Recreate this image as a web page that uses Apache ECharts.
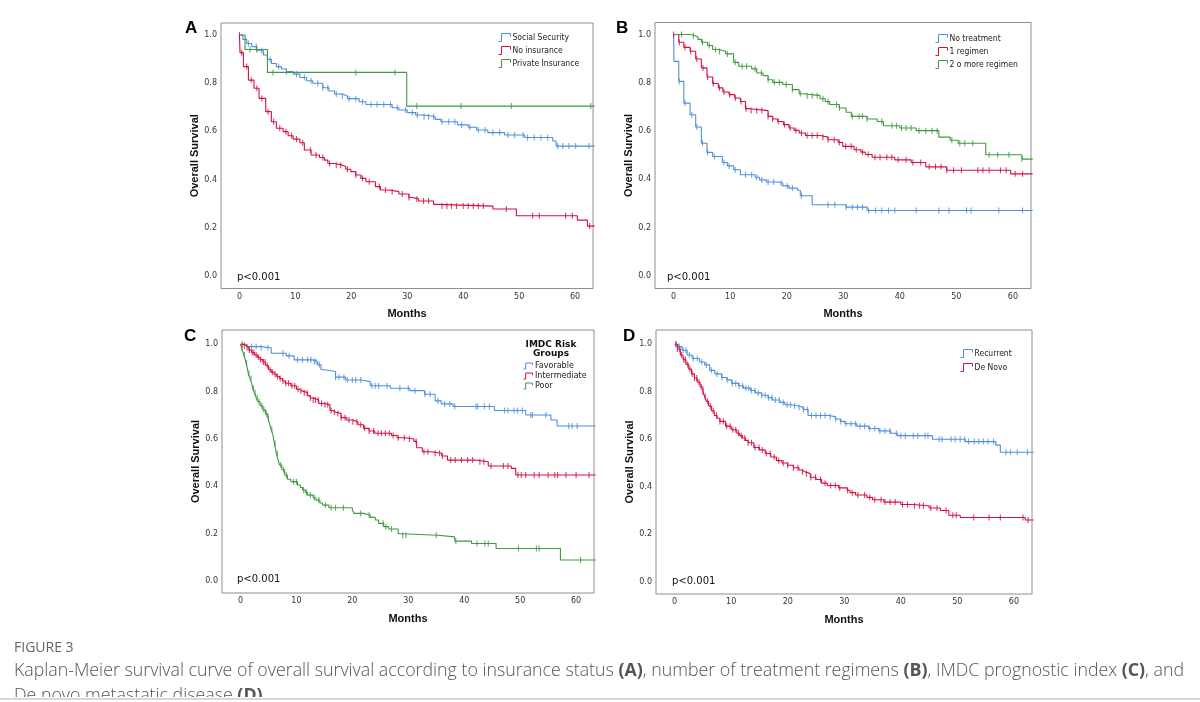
<!DOCTYPE html>
<html>
<head>
<meta charset="utf-8">
<script src="https://cdn.jsdelivr.net/npm/echarts@6/dist/echarts.min.js"></script>
<style>
html,body{margin:0;padding:0;background:#fff;}
#chart{width:1200px;height:702px;}
</style>
</head>
<body>
<div id="chart"></div>
<script>
// ---------- tick labels ----------
const monthTicks = [0, 10, 20, 30, 40, 50, 60];
const survTicks = [0, 0.2, 0.4, 0.6, 0.8, 1.0];

// ---------- Panel A: insurance status ----------
const aNames = ['Social Security', 'No insurance', 'Private Insurance'];
const aSocialT = [0,0.6,1.3,2.2,3.1,4.3,5.0,5.7,6.6,7.5,8.4,9.6,10.8,12.0,13.1,14.9,16.0,17.0,18.4,19.3,21.4,22.6,27.3,28.5,30.0,31.5,33.0,35.0,36.0,39.0,40.9,42.4,44.4,47.4,51.0,56.0,56.6,63.5];
const aSocialS = [1,0.982,0.965,0.952,0.935,0.917,0.899,0.882,0.869,0.859,0.848,0.838,0.824,0.81,0.80,0.781,0.768,0.755,0.747,0.736,0.723,0.712,0.698,0.689,0.678,0.668,0.661,0.65,0.64,0.627,0.617,0.606,0.595,0.585,0.575,0.56,0.539,0.539];
const aSocialC = [1.6,3.0,4.0,5.5,7.0,8.4,10.2,11.6,12.8,14.0,14.9,15.8,17.3,18.4,19.6,20.8,22.0,23.5,24.6,25.8,27.0,28.2,29.7,30.9,31.8,33.0,33.8,34.7,36.2,37.4,38.5,39.7,41.2,42.7,43.9,45.3,46.5,48.0,49.2,50.7,51.5,52.7,53.9,55.1,56.9,57.8,58.9,60.1,62.5];
const aNoneT = [0,0.1,0.7,1.6,2.6,3.5,4.7,5.7,6.6,7.8,8.7,9.6,10.8,11.6,12.8,14.3,15.2,15.8,17.0,18.4,19.0,19.9,20.8,21.7,22.6,24.3,25.2,26.7,28.5,30.3,30.9,32.0,34.7,35.3,45.3,49.5,60.4,62.2,63.5];
const aNoneS = [1,0.927,0.869,0.813,0.779,0.737,0.682,0.64,0.613,0.599,0.582,0.568,0.553,0.523,0.502,0.492,0.481,0.467,0.46,0.454,0.443,0.433,0.419,0.405,0.391,0.371,0.357,0.35,0.34,0.326,0.32,0.311,0.297,0.29,0.278,0.25,0.232,0.207,0.207];
const aNoneC = [0,0.4,1.3,2.1,3.1,4.0,5.1,6.1,7.2,8.3,9.3,10.2,11.3,12.7,13.7,14.9,16.1,17.3,18.1,19.3,20.8,22.0,23.2,25.0,26.1,27.3,29.1,30.3,31.7,32.9,33.8,36.2,37.1,37.9,38.8,40.0,40.9,41.8,42.7,43.6,47.7,52.4,53.6,58.3,59.5,62.6];
const aPrivT = [0,1.0,5.0,29.9,63.5];
const aPrivS = [1,0.94,0.845,0.705,0.705];
const aPrivC = [1.9,3.1,6.0,20.8,27.8,31.7,39.6,48.6,62.8];

// ---------- Panel B: treatment regimens ----------
const bNames = ['No treatment', '1 regimen', '2 o more regimen'];
const bNoT = [0,0.05,0.9,1.8,2.9,3.9,4.9,5.9,6.9,8.6,9.5,10.6,11.8,14.4,15.2,16.4,18.4,19.3,20.4,21.9,22.4,24.5,30.5,34.2,63.5];
const bNoS = [1,0.889,0.806,0.716,0.668,0.617,0.55,0.512,0.495,0.47,0.456,0.44,0.419,0.409,0.398,0.389,0.385,0.373,0.364,0.355,0.332,0.295,0.285,0.271,0.271];
const bNoC = [1.0,2.0,3.2,4.1,5.1,6.0,7.2,8.9,9.8,10.9,12.7,13.8,14.7,15.6,16.7,17.7,19.0,20.1,21.0,22.6,27.3,28.5,30.5,31.6,32.5,33.4,34.5,35.7,36.8,38.0,39.1,42.9,46.9,48.7,51.8,52.6,57.5,61.7];
const bOneT = [0,0.9,1.8,2.9,3.9,4.9,5.9,6.9,7.9,8.7,9.8,10.8,11.8,12.7,13.5,16.7,17.5,18.4,19.4,20.4,21.3,22.2,23.3,25.9,27.3,29.1,29.9,31.9,33.1,33.9,35.1,39.1,42.0,44.6,48.3,59.6,63.5];
const bOneS = [1,0.968,0.947,0.931,0.899,0.862,0.824,0.797,0.779,0.762,0.751,0.737,0.723,0.693,0.685,0.661,0.65,0.64,0.627,0.613,0.603,0.592,0.582,0.575,0.564,0.553,0.537,0.523,0.513,0.503,0.492,0.481,0.47,0.452,0.438,0.423,0.423];
const bOneC = [0,1.0,2.0,3.0,4.1,5.2,6.0,7.0,8.1,8.9,9.9,10.9,11.9,12.8,13.7,14.7,15.6,16.7,17.5,18.5,19.6,20.6,21.6,22.6,23.6,24.5,25.4,26.4,27.3,28.4,29.3,30.4,31.4,32.3,33.4,34.4,35.6,36.5,37.7,38.6,39.7,41.1,42.3,43.7,45.2,46.3,47.3,48.3,49.5,50.9,53.8,54.7,55.8,57.8,58.8,60.4,61.7];
const bTwoT = [0,2.9,3.8,4.3,4.9,6.0,6.9,8.1,9.2,10.6,11.5,13.8,14.7,15.8,16.7,17.5,19.3,21.0,22.2,23.0,25.9,26.8,27.6,29.3,30.5,31.4,34.2,36.0,37.1,40.0,42.9,46.9,48.9,50.3,55.2,61.6,63.5];
const bTwoS = [1,0.995,0.99,0.98,0.968,0.955,0.938,0.93,0.92,0.885,0.869,0.858,0.841,0.83,0.813,0.802,0.793,0.772,0.755,0.747,0.734,0.723,0.71,0.696,0.678,0.661,0.65,0.64,0.622,0.613,0.602,0.575,0.562,0.55,0.502,0.484,0.484];
const bTwoC = [1.4,3.5,5.1,6.3,7.4,8.1,9.5,10.9,12.1,12.9,14.4,15.5,16.7,17.8,18.7,19.9,21.0,22.4,23.6,24.5,25.4,26.4,27.3,28.8,29.3,31.6,32.8,33.4,34.2,36.8,38.6,39.4,40.3,41.1,42.0,43.4,44.6,45.7,46.6,49.2,50.6,51.5,52.9,55.8,57.3,59.3,61.6];

// ---------- Panel C: IMDC risk groups ----------
const cNames = ['Favorable', 'Intermediate', 'Poor'];
const cFavT = [0,1.1,3.5,5.5,8.2,9.6,12.9,13.8,14.4,15.0,17.0,18.8,21.7,23.2,26.8,30.3,32.9,34.8,35.9,38.0,45.4,51.0,55.5,56.6,63.5];
const cFavS = [1,0.99,0.985,0.962,0.951,0.934,0.927,0.913,0.892,0.885,0.861,0.849,0.842,0.825,0.814,0.804,0.789,0.761,0.748,0.737,0.72,0.701,0.68,0.655,0.655];
const cFavC = [2.0,2.8,3.7,4.9,7.6,8.7,10.2,11.1,12.0,12.6,13.2,13.5,14.1,17.0,17.6,18.5,19.1,20.0,20.6,21.5,23.5,24.1,24.7,26.2,28.5,30.0,31.2,33.0,33.9,35.3,36.5,37.4,38.3,42.1,42.4,43.6,44.5,47.2,47.8,48.9,49.5,50.4,51.9,52.2,54.6,58.7,59.3,60.2];
const cIntT = [0,0.5,1,1.5,2,2.5,3,3.5,4,4.5,5,5.5,6,6.5,7,7.5,8,9,10,10.5,11,12,12.5,13,14,15,16,16.5,17,18,19,20,21,22,23,24,27,28,29.5,31,31.5,32.5,34,36,37,42,44.3,48.4,49.2,63.5];
const cIntS = [1,0.993,0.986,0.975,0.965,0.955,0.945,0.935,0.925,0.91,0.892,0.882,0.873,0.864,0.855,0.845,0.835,0.825,0.81,0.803,0.795,0.782,0.773,0.765,0.75,0.744,0.72,0.713,0.708,0.69,0.68,0.673,0.66,0.645,0.634,0.624,0.615,0.605,0.6,0.59,0.563,0.546,0.54,0.528,0.511,0.504,0.486,0.476,0.448,0.448];
const cIntC = [0.3,0.7,1.2,1.6,2.1,2.4,2.8,3.2,3.6,4.1,4.4,4.8,5.3,5.7,6.2,6.6,7.1,7.6,8.1,8.6,9.2,9.7,10.3,10.8,11.4,11.9,12.5,13.0,13.4,13.9,14.5,15.1,15.6,16.2,16.8,17.4,18.0,18.7,19.4,20.1,20.8,21.5,22.2,23.0,23.8,24.6,25.2,25.9,26.6,27.3,28.2,29.3,30.2,31.4,32.8,33.5,34.8,35.6,36.1,37.6,38.4,39.5,40.6,41.5,42.8,43.5,44.8,47.0,47.8,49.6,50.2,51.0,52.5,53.4,55.0,56.2,56.7,58.2,60.0,62.3];
const cPoorT = [0,0.2,0.4,0.6,0.8,1.0,1.2,1.4,1.7,2.0,2.2,2.5,2.8,3.1,3.5,4.0,4.5,4.9,5.2,5.5,5.8,6.1,6.4,6.7,7.0,7.4,7.9,8.4,9.0,10.2,10.7,11.1,11.6,12.0,13.0,13.5,14.2,14.7,15.8,20.0,20.3,22.0,23.2,24.1,24.7,25.6,26.5,28.2,28.8,35.3,38.3,41.3,45.7,57.2,63.5];
const cPoorS = [1,0.985,0.97,0.955,0.94,0.92,0.9,0.877,0.855,0.835,0.814,0.795,0.775,0.758,0.74,0.723,0.705,0.687,0.665,0.64,0.617,0.58,0.539,0.515,0.49,0.47,0.448,0.43,0.42,0.406,0.395,0.385,0.375,0.363,0.352,0.342,0.33,0.321,0.31,0.30,0.286,0.279,0.269,0.258,0.244,0.23,0.22,0.20,0.194,0.187,0.169,0.159,0.138,0.089,0.089];
const cPoorC = [0.3,0.7,1.1,1.5,1.9,2.3,2.6,3.0,3.3,3.8,4.2,4.7,5.0,5.6,6.2,6.6,7.2,7.7,8.2,9.5,10.0,11.3,11.8,12.5,13.2,14.0,15.2,16.2,17.0,18.4,21.5,23.0,25.5,26.0,27.0,29.0,29.6,35.0,38.5,42.3,43.7,44.3,49.7,52.9,53.4,60.8];

// ---------- Panel D: de novo metastatic disease ----------
const dNames = ['Recurrent', 'De Novo'];
const dRecT = [0,0.6,1.3,2.2,3.1,4.4,5.3,6.2,7.1,8.3,9.2,10.1,11.3,12.2,13.4,14.3,15.4,16.5,17.3,18.6,19.5,20.6,21.8,22.7,23.6,27.2,28.4,29.3,30.1,32.2,34.3,36.1,38.2,39.4,45.6,51.4,56.8,57.6,63.5];
const dRecS = [1,0.99,0.975,0.955,0.94,0.925,0.913,0.89,0.875,0.86,0.85,0.835,0.825,0.815,0.805,0.795,0.785,0.775,0.765,0.755,0.745,0.74,0.735,0.725,0.70,0.695,0.685,0.675,0.665,0.655,0.645,0.635,0.625,0.615,0.60,0.59,0.575,0.545,0.545];
const dRecC = [0.3,0.8,1.5,2.0,2.6,3.3,4.0,4.8,5.6,6.5,7.5,8.4,9.3,10.2,10.8,11.4,12.0,12.6,13.1,13.6,14.2,14.8,15.4,16.0,16.6,17.2,17.8,18.5,19.2,19.9,20.5,21.2,22.0,22.8,23.5,24.2,25.0,25.8,26.6,27.5,28.5,29.4,30.3,31.2,32.0,32.8,33.6,34.5,35.4,36.3,37.2,38.1,39.2,40.0,40.8,42.2,43.0,44.3,44.8,46.8,47.3,48.9,49.6,50.5,51.3,52.0,53.0,53.8,54.6,55.4,56.4,58.6,59.4,60.6,62.4];
const dNovT = [0,0.5,1,1.5,2,2.5,3,3.5,4,4.5,5,5.3,5.6,6,6.5,7,7.5,8,9,10,11,11.5,12,12.5,13,14,15,16,17,18,19,20,21,22,22.5,23,24,25,26,27,29,30.5,31,32,34,35,37,40,42,45,47,48.5,50.5,62,63.5];
const dNovS = [1,0.98,0.955,0.935,0.915,0.895,0.875,0.858,0.84,0.82,0.80,0.78,0.76,0.74,0.72,0.70,0.688,0.675,0.655,0.64,0.625,0.615,0.605,0.595,0.585,0.565,0.555,0.54,0.525,0.51,0.50,0.49,0.48,0.47,0.463,0.455,0.44,0.43,0.415,0.405,0.395,0.385,0.375,0.365,0.355,0.345,0.335,0.325,0.32,0.31,0.30,0.28,0.27,0.26,0.26];
const dNovC = [0.2,0.5,0.9,1.2,1.6,1.9,2.3,2.7,3.1,3.5,3.9,4.3,4.7,5.0,5.4,5.8,6.3,6.8,7.4,8.0,8.6,9.2,9.8,10.3,10.8,11.3,11.8,12.4,13.0,13.6,14.2,14.9,15.5,16.2,16.9,17.6,18.4,19.2,20.0,21.0,21.8,22.6,23.3,24.1,24.9,25.8,26.6,27.6,28.4,29.2,30.6,31.4,32.4,33.6,34.5,35.4,36.5,37.2,38.1,39.0,40.3,41.2,42.4,43.3,44.0,45.3,46.4,48.0,49.2,49.8,52.9,55.6,57.6,61.6,62.5];

// ---------- styling ----------
const BLUE = '#4f8fdb', RED = '#d50f3f', GREEN = '#3f9a3f';
const COLORS3 = [BLUE, RED, GREEN];
const panels = [
  {left:221, top:23, width:372, height:265.5, ymin:-0.052, ymax:1.05},
  {left:655, top:22.5, width:376, height:266, ymin:-0.052, ymax:1.05},
  {left:222, top:330, width:372, height:263, ymin:-0.05, ymax:1.06},
  {left:656, top:330, width:376, height:264, ymin:-0.052, ymax:1.06}
];

function survAt(T, S, t) {
  let v = S[0];
  for (let i = 0; i < T.length; i++) { if (T[i] <= t) v = S[i]; else break; }
  return v;
}
function km(name, T, S, C, color, gi) {
  return [
    {type:'line', name:name, step:'end', xAxisIndex:gi, yAxisIndex:gi, symbol:'none',
     data:T.map((t,i)=>[t,S[i]]), lineStyle:{color:color, width:1.1}, itemStyle:{color:color},
     animation:false, clip:true, z:2},
    {type:'scatter', name:name+' (censored)', xAxisIndex:gi, yAxisIndex:gi, symbol:'rect',
     symbolSize:[1.1,6], data:C.map(t=>[t,survAt(T,S,t)]), itemStyle:{color:color},
     animation:false, clip:true, z:3}
  ];
}

const series = [].concat(
  km(aNames[0], aSocialT, aSocialS, aSocialC, BLUE, 0),
  km(aNames[1], aNoneT, aNoneS, aNoneC, RED, 0),
  km(aNames[2], aPrivT, aPrivS, aPrivC, GREEN, 0),
  km(bNames[0], bNoT, bNoS, bNoC, BLUE, 1),
  km(bNames[1], bOneT, bOneS, bOneC, RED, 1),
  km(bNames[2], bTwoT, bTwoS, bTwoC, GREEN, 1),
  km(cNames[0], cFavT, cFavS, cFavC, BLUE, 2),
  km(cNames[1], cIntT, cIntS, cIntC, RED, 2),
  km(cNames[2], cPoorT, cPoorS, cPoorC, GREEN, 2),
  km(dNames[0], dRecT, dRecS, dRecC, BLUE, 3),
  km(dNames[1], dNovT, dNovS, dNovC, RED, 3)
);

const tickFont = {fontSize:8, color:'#333', fontFamily:'DejaVu Sans'};
const titleFont = {fontSize:11, fontWeight:'bold', color:'#111', fontFamily:'Liberation Sans'};
const grids = panels.map(p => ({left:p.left, top:p.top, width:p.width, height:p.height,
  show:true, borderColor:'#8f8f8f', borderWidth:1, backgroundColor:'#fff', containLabel:false}));
const xAxes = panels.map((p,i) => ({type:'value', gridIndex:i, min:-3.3, max:63.2,
  name:'Months', nameLocation:'middle', nameGap:20, nameTextStyle:titleFont,
  axisLine:{show:false}, axisTick:{show:false}, splitLine:{show:false},
  axisLabel:Object.assign({customValues:monthTicks, margin:4}, tickFont)}));
const yAxes = panels.map((p,i) => ({type:'value', gridIndex:i, min:p.ymin, max:p.ymax,
  name:'Overall Survival', nameLocation:'middle', nameGap:21, nameTextStyle:titleFont,
  axisLine:{show:false}, axisTick:{show:false}, splitLine:{show:false},
  axisLabel:Object.assign({customValues:survTicks, margin:4, formatter:v=>v.toFixed(1)}, tickFont)}));

const stepIcon = 'path://M0,8 L3,8 L3,0 L12,0 L12,3';
function legendFor(names, left, top, fs, iw, ih, gap, lh, font) {
  return {data:names.map((n,i)=>({name:n, itemStyle:{color:'rgba(255,255,255,0)', borderColor:COLORS3[i], borderWidth:1}})),
    left:left, top:top, orient:'vertical', itemWidth:iw, itemHeight:ih, itemGap:gap,
    icon:stepIcon, padding:0, selectedMode:false,
    textStyle:{fontSize:fs, color:'#222', fontFamily:font, lineHeight:lh, padding:[0,0,0,-3]}};
}
const narrow = 'Liberation Sans Narrow, DejaVu Sans Condensed, sans-serif';
const legends = [
  legendFor(aNames, 498, 33, 8.5, 12, 8, 4, 8, narrow),
  legendFor(bNames, 935, 34, 8.5, 12, 8, 4, 8, narrow),
  legendFor(cNames, 523, 362, 8, 10, 6, 2, 6, 'DejaVu Sans'),
  legendFor(dNames, 960, 349, 8.5, 12, 8, 5, 8, narrow)
];

function txt(x, y, s, style) {
  return {type:'text', left:x, top:y, silent:true, style:Object.assign({text:s}, style)};
}
const letterStyle = {font:'bold 17px "Liberation Sans", Arial, sans-serif', fill:'#000'};
const pStyle = {font:'10px "DejaVu Sans", sans-serif', fill:'#111'};
const capRich = {b:{fontWeight:'bold', fontSize:17.8, fontFamily:'Open Sans', fill:'#555'}};
const graphic = [
  txt(185, 20, 'A', letterStyle), txt(616, 20, 'B', letterStyle),
  txt(184, 328, 'C', letterStyle), txt(623, 328, 'D', letterStyle),
  txt(237, 272, 'p<0.001', pStyle), txt(667, 272, 'p<0.001', pStyle),
  txt(237, 574, 'p<0.001', pStyle), txt(672, 576, 'p<0.001', pStyle),
  {type:'text', x:551, y:340, silent:true, style:{text:'IMDC Risk\nGroups', align:'center',
    font:'bold 9px "DejaVu Sans", sans-serif', fill:'#111', lineHeight:9}},
  txt(14, 641, 'FIGURE 3', {font:'14px "Open Sans", sans-serif', fill:'#666'}),
  {type:'text', left:14, top:662, silent:true, style:{
    text:'Kaplan-Meier survival curve of overall survival according to insurance status {b|(A)}, number of treatment regimens {b|(B)}, IMDC prognostic index {b|(C)}, and',
    font:'300 17.8px "Open Sans", sans-serif', fill:'#555', rich:capRich}},
  {type:'text', left:14, top:687, silent:true, style:{
    text:'De novo metastatic disease {b|(D)}.',
    font:'300 17.8px "Open Sans", sans-serif', fill:'#555', rich:capRich}},
  {type:'rect', left:0, top:697, silent:true, z:10, shape:{width:1200, height:5}, style:{fill:'#fff'}},
  {type:'rect', left:0, top:698, silent:true, z:11, shape:{width:1200, height:2}, style:{fill:'#d9d9d9'}}
];

const chart = echarts.init(document.getElementById('chart'), null, {renderer:'canvas'});
chart.setOption({
  backgroundColor:'#fff', animation:false,
  grid:grids, xAxis:xAxes, yAxis:yAxes, legend:legends, series:series, graphic:graphic
});
</script>
</body>
</html>
